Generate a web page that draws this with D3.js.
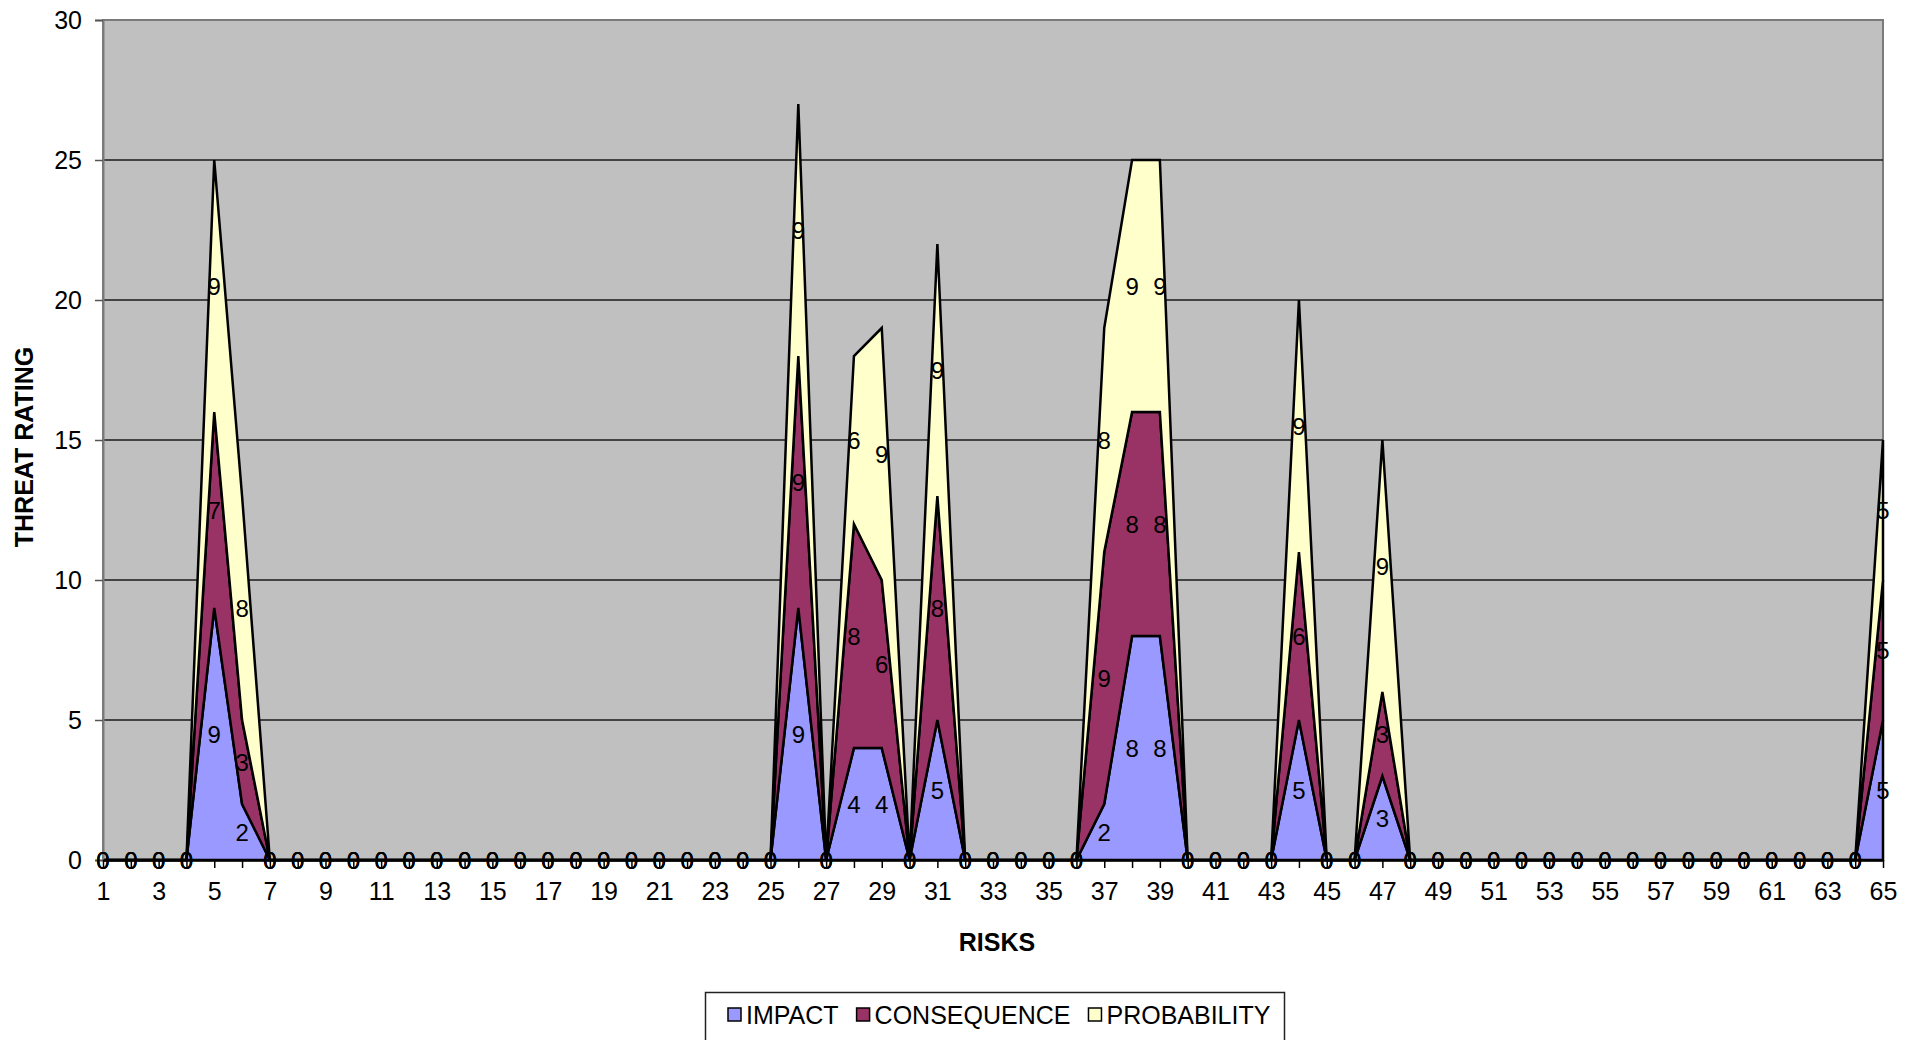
<!DOCTYPE html>
<html>
<head>
<meta charset="utf-8">
<script src="https://cdn.jsdelivr.net/npm/d3@7"></script>
<style>
  body { margin: 0; background: #fff; }
  text { font-family: Arial, 'Liberation Sans', sans-serif; }
</style>
</head>
<body>
<div id="chart"></div>
<script>
const categories = [
  1, 2, 3, 4, 5, 6, 7, 8, 9, 10, 11, 12, 13,
  14, 15, 16, 17, 18, 19, 20, 21, 22, 23, 24, 25, 26,
  27, 28, 29, 30, 31, 32, 33, 34, 35, 36, 37, 38, 39,
  40, 41, 42, 43, 44, 45, 46, 47, 48, 49, 50, 51, 52,
  53, 54, 55, 56, 57, 58, 59, 60, 61, 62, 63, 64, 65
]

const impact = [
  0, 0, 0, 0, 9, 2, 0, 0, 0, 0, 0, 0, 0,
  0, 0, 0, 0, 0, 0, 0, 0, 0, 0, 0, 0, 9,
  0, 4, 4, 0, 5, 0, 0, 0, 0, 0, 2, 8, 8,
  0, 0, 0, 0, 5, 0, 0, 3, 0, 0, 0, 0, 0,
  0, 0, 0, 0, 0, 0, 0, 0, 0, 0, 0, 0, 5
]

const consequence = [
  0, 0, 0, 0, 7, 3, 0, 0, 0, 0, 0, 0, 0,
  0, 0, 0, 0, 0, 0, 0, 0, 0, 0, 0, 0, 9,
  0, 8, 6, 0, 8, 0, 0, 0, 0, 0, 9, 8, 8,
  0, 0, 0, 0, 6, 0, 0, 3, 0, 0, 0, 0, 0,
  0, 0, 0, 0, 0, 0, 0, 0, 0, 0, 0, 0, 5
]

const probability = [
  0, 0, 0, 0, 9, 8, 0, 0, 0, 0, 0, 0, 0,
  0, 0, 0, 0, 0, 0, 0, 0, 0, 0, 0, 0, 9,
  0, 6, 9, 0, 9, 0, 0, 0, 0, 0, 8, 9, 9,
  0, 0, 0, 0, 9, 0, 0, 9, 0, 0, 0, 0, 0,
  0, 0, 0, 0, 0, 0, 0, 0, 0, 0, 0, 0, 5
]

const seriesNames = ['IMPACT', 'CONSEQUENCE', 'PROBABILITY']
const seriesColors = ['#9999ff', '#993366', '#ffffcc']
const yTicks = [0, 5, 10, 15, 20, 25, 30]

const svg = d3.select('#chart')
  .append('svg')
  .attr('width', 1921)
  .attr('height', 1040)
  .style('display', 'block')

const margin = { top: 20, right: 38, bottom: 180, left: 103 }
const width = 1921 - margin.left - margin.right
const height = 1040 - margin.top - margin.bottom

const x = d3.scalePoint().domain(categories).range([0, width])
const y = d3.scaleLinear().domain([0, 30]).range([height, 0])

const g = svg.append('g').attr('transform', `translate(${margin.left},${margin.top})`)

// plot area
g.append('rect')
  .attr('width', width)
  .attr('height', height)
  .attr('fill', '#c0c0c0')
  .attr('stroke', '#7a7a7a')
  .attr('stroke-width', 2)

// gridlines
g.append('g')
  .selectAll('line')
  .data(yTicks.filter((d) => d > 0 && d < 30))
  .enter()
  .append('line')
  .attr('x1', 0)
  .attr('x2', width)
  .attr('y1', (d) => y(d))
  .attr('y2', (d) => y(d))
  .attr('stroke', '#1a1a1a')
  .attr('stroke-width', 1.5)

const table = categories.map((c, i) => ({
  label: c,
  IMPACT: impact[i],
  CONSEQUENCE: consequence[i],
  PROBABILITY: probability[i]
}))

const stacked = d3.stack().keys(seriesNames)(table)

const area = d3.area()
  .x((d) => x(d.data.label))
  .y0((d) => y(d[0]))
  .y1((d) => y(d[1]))

g.selectAll('.layer')
  .data(stacked)
  .enter()
  .append('path')
  .attr('class', 'layer')
  .attr('d', area)
  .attr('fill', (d, i) => seriesColors[i])
  .attr('stroke', '#000')
  .attr('stroke-width', 2.5)
  .attr('stroke-linejoin', 'miter')

// axes
const yAxis = g.append('g')
  .call(d3.axisLeft(y).tickValues(yTicks).tickSize(8).tickPadding(13))
yAxis.select('.domain').attr('stroke', '#7a7a7a').attr('stroke-width', 2)
yAxis.selectAll('.tick line').attr('stroke', '#555').attr('stroke-width', 1.5)
yAxis.selectAll('text').attr('font-size', 25).attr('fill', '#000')

const xAxis = g.append('g')
  .attr('transform', `translate(0,${height})`)
  .call(d3.axisBottom(x).tickSize(8).tickPadding(14).tickSizeOuter(0)
    .tickFormat((d) => (d % 2 === 1 ? d : '')))
xAxis.select('.domain').attr('stroke', '#000').attr('stroke-width', 2.5)
xAxis.selectAll('.tick line').attr('stroke', '#000').attr('stroke-width', 1.5)
xAxis.selectAll('text').attr('font-size', 25).attr('fill', '#000')

// data labels, centred in each band
stacked.forEach((layer) => {
  g.append('g')
    .selectAll('text')
    .data(layer)
    .enter()
    .append('text')
    .attr('x', (d) => x(d.data.label))
    .attr('y', (d) => y((d[0] + d[1]) / 2))
    .attr('text-anchor', 'middle')
    .attr('dominant-baseline', 'central')
    .attr('font-size', 24)
    .attr('fill', '#000')
    .text((d) => d[1] - d[0])
})

// axis titles
svg.append('text')
  .attr('x', 997)
  .attr('y', 942)
  .attr('text-anchor', 'middle')
  .attr('dominant-baseline', 'central')
  .attr('font-size', 25)
  .attr('font-weight', 'bold')
  .text('RISKS')

svg.append('text')
  .attr('transform', 'translate(24,447) rotate(-90)')
  .attr('text-anchor', 'middle')
  .attr('dominant-baseline', 'central')
  .attr('font-size', 25)
  .attr('font-weight', 'bold')
  .text('THREAT RATING')

// legend
const legend = svg.append('g')
legend.append('rect')
  .attr('x', 705.5)
  .attr('y', 992.5)
  .attr('width', 579)
  .attr('height', 80)
  .attr('fill', '#fff')
  .attr('stroke', '#222')
  .attr('stroke-width', 1.5)

let lx = 728
seriesNames.forEach((name, i) => {
  legend.append('rect')
    .attr('x', lx)
    .attr('y', 1008)
    .attr('width', 13)
    .attr('height', 13)
    .attr('fill', seriesColors[i])
    .attr('stroke', '#000')
    .attr('stroke-width', 1.5)
  const t = legend.append('text')
    .attr('x', lx + 18)
    .attr('y', 1015)
    .attr('dominant-baseline', 'central')
    .attr('font-size', 25)
    .text(name)
  lx += 18 + t.node().getComputedTextLength() + 18
})
</script>
</body>
</html>
